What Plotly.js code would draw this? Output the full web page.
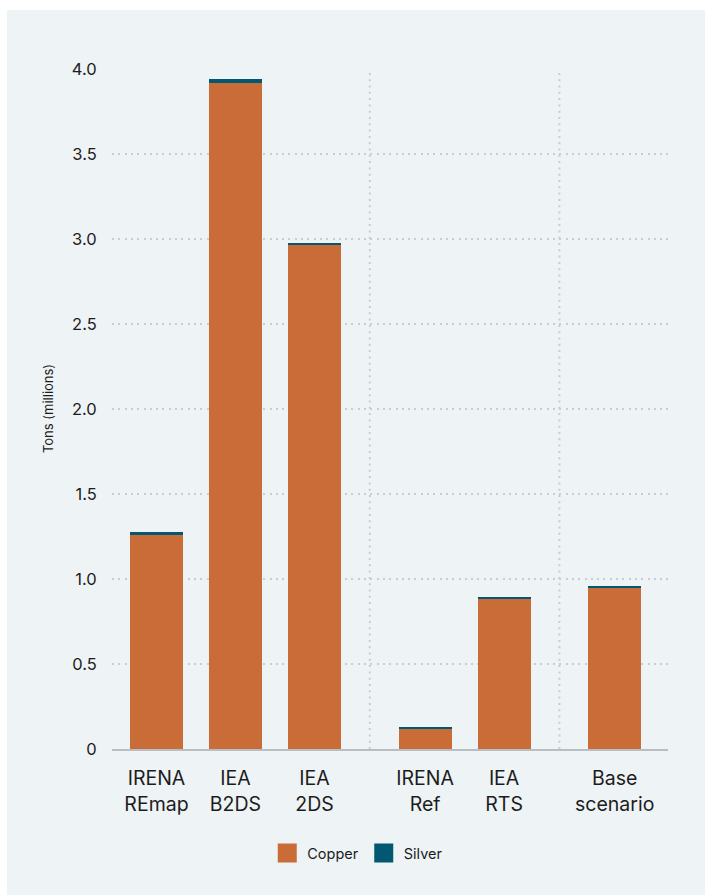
<!DOCTYPE html>
<html>
<head>
<meta charset="utf-8">
<script src="https://cdn.plot.ly/plotly-3.0.1.min.js"></script>
<style>
  html, body { margin: 0; padding: 0; background: #ffffff; }
  #chart { position: absolute; left: 7px; top: 10px; width: 698px; height: 885px; }
</style>
</head>
<body>
<div id="chart"></div>
<script>
// ---- data ----
const categories = ["IRENA<br>REmap", "IEA<br>B2DS", "IEA<br>2DS", "IRENA<br>Ref", "IEA<br>RTS", "Base<br>scenario"];
const groupIndex = [0, 0, 0, 1, 1, 2];
const copper = [1.26, 3.92, 2.965, 0.117, 0.882, 0.947];
const silver = [0.015, 0.024, 0.012, 0.012, 0.012, 0.012];
const yTickVals = [0, 0.5, 1.0, 1.5, 2.0, 2.5, 3.0, 3.5, 4.0];
const yTickText = ["0", "0.5", "1.0", "1.5", "2.0", "2.5", "3.0", "3.5", "4.0"];

// ---- layout helpers ----
const GROUP_GAP = 0.4;
const xPos = categories.map((c, i) => i + GROUP_GAP * groupIndex[i]);
const separators = [];
for (let i = 1; i < categories.length; i++) {
  if (groupIndex[i] !== groupIndex[i - 1]) separators.push((xPos[i] + xPos[i - 1]) / 2);
}

const COPPER = "#c96c38";
const SILVER = "#015870";
const FONT = "Inter, 'Noto Sans', sans-serif";
const TXT = "#1c1c1c";
const GRID = "#c9cdd0";

const traces = [
  { type: "bar", x: xPos, y: copper, name: "Copper", marker: { color: COPPER }, width: 0.67, showlegend: false, hoverinfo: "y" },
  { type: "bar", x: xPos, y: silver, name: "Silver", marker: { color: SILVER }, width: 0.67, showlegend: false, hoverinfo: "y" },
  // legend proxies
  { type: "scatter", mode: "markers", x: [null], y: [null], name: "Copper",
    marker: { symbol: "square", size: 16, color: COPPER, line: { color: COPPER, width: 3 } } },
  { type: "scatter", mode: "markers", x: [null], y: [null], name: "Silver",
    marker: { symbol: "square", size: 16, color: SILVER, line: { color: SILVER, width: 3 } } }
];

const shapes = separators.map(s => ({
  type: "line", xref: "x", yref: "y", x0: s, x1: s, y0: 0, y1: 4.0,
  line: { color: GRID, width: 2, dash: "2px,4.3px" }, layer: "below"
}));

const layout = {
  width: 698, height: 885,
  paper_bgcolor: "#eef3f6", plot_bgcolor: "#eef3f6",
  margin: { l: 105, r: 37, t: 59, b: 146 },
  barmode: "stack",
  font: { family: FONT, color: TXT },
  xaxis: {
    range: [-0.563, 6.475],
    tickvals: xPos, ticktext: categories,
    tickfont: { size: 19.5, color: TXT },
    ticks: "outside", ticklen: 11, tickcolor: "rgba(0,0,0,0)",
    showgrid: false, zeroline: false,
    showline: true, linecolor: "#b9bec2", linewidth: 2,
    fixedrange: true
  },
  yaxis: {
    range: [0, 4.0],
    tickvals: yTickVals, ticktext: yTickText,
    tickfont: { size: 16.5, color: TXT },
    ticks: "outside", ticklen: 11, tickcolor: "rgba(0,0,0,0)",
    showgrid: true, gridcolor: GRID, gridwidth: 2, griddash: "2px,4.3px",
    zeroline: false, showline: false,
    fixedrange: true
  },
  shapes: shapes,
  annotations: [{
    text: "Tons (millions)", xref: "paper", yref: "paper",
    x: -0.115, y: 0.5, xanchor: "center", yanchor: "middle",
    textangle: -90, showarrow: false,
    font: { size: 13, color: TXT, family: FONT }
  }],
  showlegend: true,
  legend: {
    orientation: "h", traceorder: "normal",
    x: 0.442, xanchor: "center", y: -0.153, yanchor: "middle",
    font: { size: 14.5, color: TXT }, bgcolor: "rgba(0,0,0,0)",
    itemclick: false, itemdoubleclick: false
  },
  bargap: 0
};

Plotly.newPlot("chart", traces, layout, { displayModeBar: false, staticPlot: true });
</script>
</body>
</html>
